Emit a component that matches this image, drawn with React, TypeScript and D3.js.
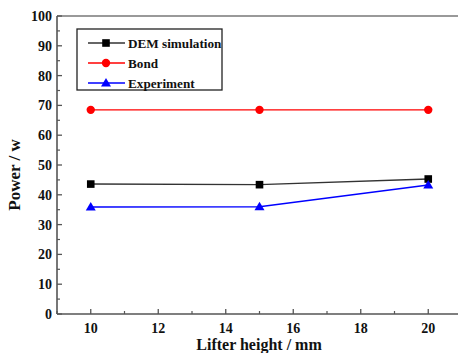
import React from "react";
import * as d3 from "d3";

const lifterHeights = [10, 15, 20];
const demSimulation = [43.6, 43.4, 45.3];
const bond = [68.5, 68.5, 68.5];
const experiment = [35.9, 36.0, 43.3];
const xTicks = [10, 12, 14, 16, 18, 20];
const yTicks = [0, 10, 20, 30, 40, 50, 60, 70, 80, 90, 100];
const legendLabels = ["DEM simulation", "Bond", "Experiment"];

const W = 458, H = 353;
const left = 57, right = 462, top = 16, bottom = 314;

export default function App() {
  const x = d3.scaleLinear().domain([9, 21]).range([left, right]);
  const y = d3.scaleLinear().domain([0, 100]).range([bottom, top]);
  const line = d3.line<number>().x((_, i) => x(lifterHeights[i])).y(d => y(d));
  const font = "'Liberation Serif', 'Times New Roman', serif";
  const series = [
    { name: legendLabels[0], data: demSimulation, color: "#000", stroke: "#333", marker: "square" },
    { name: legendLabels[1], data: bond, color: "#ff0000", stroke: "#ff0000", marker: "circle" },
    { name: legendLabels[2], data: experiment, color: "#0000ff", stroke: "#0000ff", marker: "triangle" },
  ];
  const marker = (m: string, cx: number, cy: number, c: string, k: string) => {
    if (m === "square") return <rect key={k} x={cx - 3.8} y={cy - 3.8} width={7.6} height={7.6} fill={c} />;
    if (m === "circle") return <circle key={k} cx={cx} cy={cy} r={4.2} fill={c} />;
    return <path key={k} d={`M${cx},${cy - 5}L${cx + 5},${cy + 3.5}L${cx - 5},${cy + 3.5}Z`} fill={c} />;
  };
  const minorY = d3.range(5, 100, 10);
  const minorX = d3.range(9, 22, 1).filter(v => v % 2 === 1);
  return (
    <svg width={W} height={H} style={{ position: "absolute", left: 0, top: 0 }} fontFamily={font}>
      <rect width={W} height={H} fill="#fff" />
      <line x1={left} x2={right} y1={top} y2={top} stroke="#777" strokeWidth={1.6} />
      <line x1={left} x2={left} y1={top} y2={bottom} stroke="#555" strokeWidth={1.6} />
      <line x1={left} x2={right} y1={bottom} y2={bottom} stroke="#555" strokeWidth={1.6} />
      {yTicks.map(t => (
        <g key={"y" + t}>
          <line x1={left} x2={left + 5} y1={y(t)} y2={y(t)} stroke="#555" strokeWidth={1.3} />
          <text x={left - 5} y={y(t) + 5} textAnchor="end" fontSize={14} fontWeight="bold" fill="#111">{t}</text>
        </g>
      ))}
      {minorY.map(t => (
        <line key={"my" + t} x1={left} x2={left + 3} y1={y(t)} y2={y(t)} stroke="#555" strokeWidth={1.2} />
      ))}
      {xTicks.map(t => (
        <g key={"x" + t}>
          <line x1={x(t)} x2={x(t)} y1={bottom} y2={bottom - 5} stroke="#555" strokeWidth={1.3} />
          <text x={x(t)} y={bottom + 19} textAnchor="middle" fontSize={14} fontWeight="bold" fill="#111">{t}</text>
        </g>
      ))}
      {minorX.map(t => (
        <line key={"mx" + t} x1={x(t)} x2={x(t)} y1={bottom} y2={bottom - 3} stroke="#555" strokeWidth={1.2} />
      ))}
      {series.map(s => (
        <g key={s.name}>
          <path d={line(s.data) || ""} fill="none" stroke={s.stroke} strokeWidth={1.4} />
          {s.data.map((v, i) => marker(s.marker, x(lifterHeights[i]), y(v), s.color, s.name + i))}
        </g>
      ))}
      <rect x={77} y={29} width={145} height={61} fill="#fff" stroke="#222" strokeWidth={1.3} />
      {series.map((s, i) => {
        const ly = 43 + i * 20;
        return (
          <g key={"lg" + i}>
            <line x1={88} x2={125} y1={ly} y2={ly} stroke={s.stroke} strokeWidth={1.4} />
            {marker(s.marker, 106, ly, s.color, "lm" + i)}
            <text x={128} y={ly + 4.5} fontSize={13.2} fontWeight="bold" fill="#111">{s.name}</text>
          </g>
        );
      })}
      <text transform={`translate(20,175) rotate(-90)`} textAnchor="middle" fontSize={17} fontWeight="bold" fill="#111">Power / w</text>
      <text x={259} y={350} textAnchor="middle" fontSize={16} fontWeight="bold" fill="#111">Lifter height / mm</text>
    </svg>
  );
}
